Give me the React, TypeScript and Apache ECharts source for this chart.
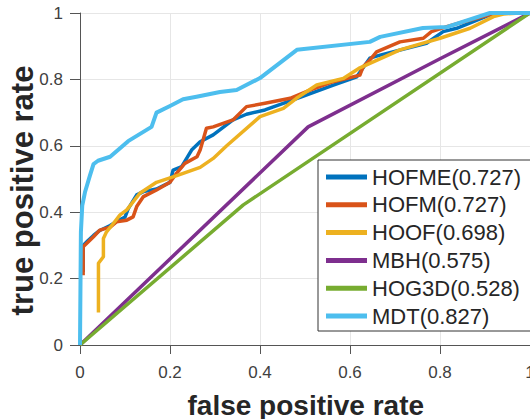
import React, { useEffect, useRef } from "react";
import * as echarts from "echarts";

const seriesNames = ["HOFME(0.727)", "HOFM(0.727)", "HOOF(0.698)", "MBH(0.575)", "HOG3D(0.528)", "MDT(0.827)"];
const seriesColors = ["#0072BD", "#D95319", "#EDB120", "#7E2F8E", "#77AC30", "#4DBEEE"];

const hofme: number[][] = [
  [0.007, 0.22], [0.007, 0.3], [0.018, 0.315], [0.03, 0.33], [0.044, 0.345], [0.067, 0.36],
  [0.085, 0.375], [0.1, 0.385], [0.107, 0.41], [0.126, 0.452], [0.141, 0.462], [0.17, 0.47],
  [0.2, 0.49], [0.207, 0.527], [0.226, 0.537], [0.248, 0.587], [0.267, 0.612], [0.296, 0.633],
  [0.34, 0.678], [0.37, 0.695], [0.411, 0.708], [0.489, 0.746], [0.563, 0.783], [0.615, 0.808],
  [0.644, 0.864], [0.667, 0.873], [0.77, 0.909], [0.807, 0.944], [0.837, 0.954], [0.911, 0.994],
  [0.94, 1], [1, 1],
];
const hofm: number[][] = [
  [0.007, 0.21], [0.007, 0.296], [0.018, 0.31], [0.03, 0.326], [0.044, 0.346], [0.067, 0.355],
  [0.081, 0.371], [0.104, 0.376], [0.118, 0.386], [0.126, 0.417], [0.141, 0.447], [0.17, 0.467],
  [0.2, 0.49], [0.215, 0.518], [0.233, 0.547], [0.26, 0.567], [0.267, 0.587], [0.281, 0.653],
  [0.296, 0.657], [0.34, 0.678], [0.37, 0.718], [0.411, 0.728], [0.467, 0.743], [0.511, 0.768],
  [0.563, 0.793], [0.622, 0.813], [0.629, 0.838], [0.644, 0.858], [0.659, 0.883], [0.711, 0.913],
  [0.763, 0.924], [0.781, 0.944], [0.815, 0.959], [0.859, 0.976], [0.896, 0.989], [0.922, 1], [1, 1],
];
const hoof: number[][] = [
  [0.041, 0.098], [0.041, 0.246], [0.052, 0.266], [0.052, 0.321], [0.059, 0.341], [0.074, 0.366],
  [0.089, 0.392], [0.104, 0.407], [0.133, 0.457], [0.17, 0.49], [0.215, 0.51], [0.267, 0.535],
  [0.296, 0.562], [0.326, 0.6], [0.4, 0.688], [0.452, 0.713], [0.481, 0.743], [0.526, 0.783],
  [0.585, 0.803], [0.622, 0.835], [0.711, 0.889], [0.8, 0.924], [0.867, 0.954], [0.919, 0.989],
  [0.941, 0.997], [0.978, 1], [1, 1],
];
const mbh: number[][] = [[0, 0], [0.507, 0.657], [0.8, 0.862], [1, 1]];
const hog3d: number[][] = [[0, 0], [0.363, 0.422], [1, 1]];
const mdt: number[][] = [
  [0, 0], [0.002, 0.34], [0.005, 0.42], [0.011, 0.46], [0.022, 0.51], [0.03, 0.545], [0.04, 0.555],
  [0.067, 0.567], [0.107, 0.614], [0.159, 0.657], [0.17, 0.7], [0.2, 0.72], [0.229, 0.74],
  [0.259, 0.748], [0.311, 0.762], [0.348, 0.768], [0.4, 0.804], [0.482, 0.889], [0.644, 0.913],
  [0.667, 0.928], [0.762, 0.955], [0.816, 0.958], [0.911, 1], [1, 1],
];
const seriesData = [hofme, hofm, hoof, mbh, hog3d, mdt];

const xAxisTitle = "false positive rate";
const yAxisTitle = "true positive rate";

const FONT = "Arial, 'Liberation Sans', Helvetica, sans-serif";

export default function App() {
  const ref = useRef<HTMLDivElement>(null);
  useEffect(() => {
    if (!ref.current) return;
    const chart = echarts.init(ref.current, undefined, { renderer: "svg" });
    const fmt = (v: number) => String(Math.round(v * 10) / 10);
    const axisCommon = {
      type: "value" as const,
      min: 0,
      max: 1,
      interval: 0.2,
      axisLine: { show: true, lineStyle: { color: "#555", width: 1 } },
      splitLine: { show: true, lineStyle: { color: "#e6e6e6", width: 1 } },
      axisLabel: { color: "#404040", fontSize: 17, fontFamily: FONT, formatter: fmt },
    };
    chart.setOption({
      animation: false,
      backgroundColor: "#fff",
      grid: { left: 80, right: 0, top: 13, bottom: 74, containLabel: false, outerBoundsMode: "none" },
      xAxis: {
        ...axisCommon,
        axisTick: { show: true, length: 9, inside: false, lineStyle: { color: "#555" } },
        axisLabel: { ...axisCommon.axisLabel, margin: 19 },
      },
      yAxis: {
        ...axisCommon,
        axisTick: { show: true, length: 10, inside: false, lineStyle: { color: "#555" } },
        axisLabel: { ...axisCommon.axisLabel, margin: 17 },
      },
      legend: {
        orient: "vertical",
        left: 318,
        top: 160,
        padding: [6, 22, 4, 8],
        itemGap: 5.8,
        itemWidth: 41,
        itemHeight: 5,
        icon: "rect",
        borderColor: "#333",
        borderWidth: 1,
        backgroundColor: "#fff",
        textStyle: { fontSize: 22, fontFamily: FONT, color: "#262626", lineHeight: 22 },
        data: seriesNames,
      },
      graphic: [
        {
          type: "text",
          x: 305.8,
          y: 405,
          style: {
            text: xAxisTitle,
            fill: "#262626",
            font: `bold 28px ${FONT}`,
            textAlign: "center",
            textVerticalAlign: "middle",
          },
        },
        {
          type: "text",
          x: 22,
          y: 190.5,
          rotation: Math.PI / 2,
          style: {
            text: yAxisTitle,
            fill: "#262626",
            font: `bold 31px ${FONT}`,
            textAlign: "center",
            textVerticalAlign: "middle",
          },
        },
      ],
      series: seriesData.map((d, i) => ({
        type: "line",
        name: seriesNames[i],
        data: d,
        showSymbol: false,
        symbol: "none",
        clip: false,
        color: seriesColors[i],
        lineStyle: { width: i === 5 ? 4 : 3.5, color: seriesColors[i], join: "round" },
      })),
    });
    return () => chart.dispose();
  }, []);
  return (
    <div
      ref={ref}
      style={{ position: "fixed", left: 0, top: 0, width: 530, height: 419, background: "#fff" }}
    />
  );
}
